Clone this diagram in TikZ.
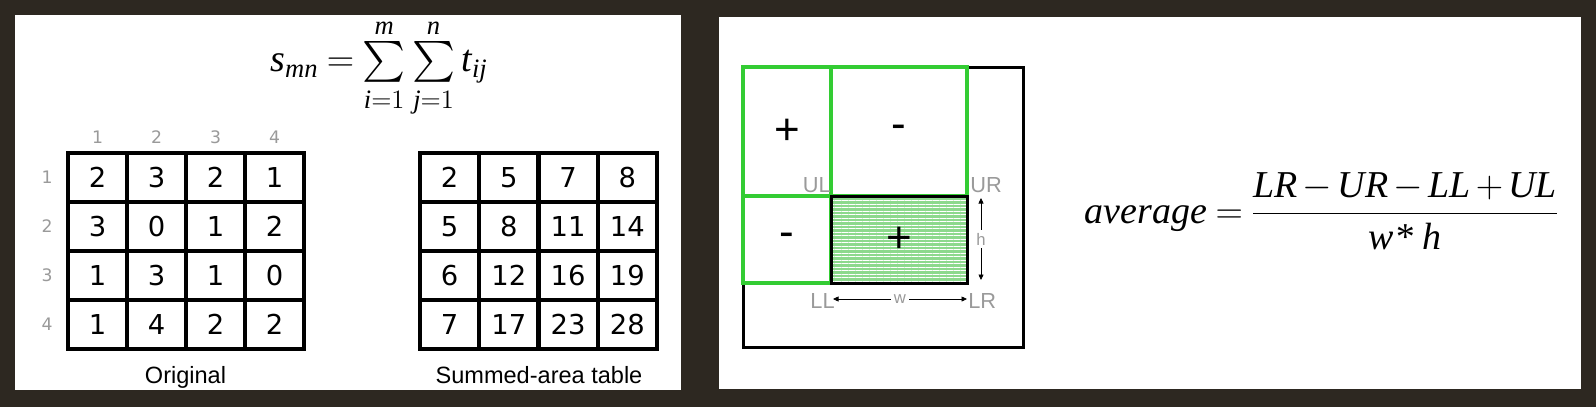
\RequirePackage{fix-cm}
\documentclass[tikz,border=0pt]{standalone}
\usepackage{amsmath}
\usepackage{graphicx}
\usepackage{fontspec}
\setmainfont{Liberation Sans}
\newfontfamily\cellfont{DejaVu Sans}
\newfontfamily\timesfont{Liberation Serif}
\newcommand{\tvar}[1]{\text{\timesfont\itshape #1}}
\newcommand{\bigsum}{\mathop{\vcenter{\hbox{\scalebox{1.12}{$\textstyle\sum$}}}}\limits}
\newcommand{\lowlim}[1]{\raisebox{-2pt}{$\scriptstyle #1$}}
\usetikzlibrary{arrows.meta, positioning, calc, patterns.meta}
\definecolor{panelbg}{HTML}{2D2821}
\definecolor{boxgreen}{HTML}{33CC33}
\definecolor{shadegreen}{HTML}{8CD98C}
\definecolor{labelgray}{HTML}{9A9A9A}

\begin{document}
\begin{tikzpicture}[x=0.02cm, y=-0.02cm,
        % --- Style Definitions ---
        cell_style/.style={rectangle, draw=black, line width=0.08cm, minimum width=1.18cm, minimum height=0.98cm, inner sep=0pt, font=\cellfont\fontsize{15.6}{18}\selectfont},
        index_style/.style={text=labelgray, inner sep=0pt, font=\cellfont\fontsize{9.8}{11}\selectfont},
        caption_style/.style={inner sep=0pt, font=\fontsize{13.4}{16}\selectfont},
        formula_style/.style={inner sep=0pt, font=\fontsize{21.6}{26}\selectfont},
        corner_style/.style={text=labelgray, inner sep=0pt, font=\fontsize{12.4}{14}\selectfont},
        sign_style/.style={inner sep=0pt, font=\fontsize{25}{28}\selectfont},
        green_box/.style={draw=boxgreen, line width=0.065cm},
        black_box/.style={draw=black, line width=0.06cm},
        dim_arrow/.style={{Triangle[length=1.1mm, width=1mm]}-{Triangle[length=1.1mm, width=1mm]}, line width=0.4pt},
        dim_label/.style={text=labelgray, fill=white, inner sep=1.5pt, font=\fontsize{9.5}{11}\selectfont}
    ]

        % --- Background and Panels ---
        \fill[panelbg] (0,0) rectangle (1596,407);
        \fill[white] (15,15) rectangle (681,390);
        \fill[white] (719,17) rectangle (1581,389);

        %################################################################
        %### Summed-Area Table ##########################################
        %################################################################

        % --- Definition ---
        \node[formula_style] (sum_formula) at (379,68)
            {$\thickmuskip=4mu \tvar{s}_{\tvar{mn}} = \bigsum_{\lowlim{\tvar{i}=1}}^{\tvar{m}}\bigsum_{\lowlim{\tvar{j}=1}}^{\tvar{n}} \tvar{t}_{\tvar{ij}}$};

        % --- Original Grid ---
        \foreach \vals [count=\r] in {{2,3,2,1},{3,0,1,2},{1,3,1,0},{1,4,2,2}}
            \foreach \v [count=\c] in \vals
                \node[cell_style] (orig-\r-\c) at ({97.5+59*(\c-1)},{177.5+49*(\r-1)}) {\v};

        % --- Row and Column Indices ---
        \foreach \c in {1,...,4}
            \node[index_style, above=0.14cm of orig-1-\c] (col-\c) {\c};
        \foreach \r in {1,...,4}
            \node[index_style, left=0.26cm of orig-\r-1] (row-\r) {\r};

        % --- Summed Grid ---
        \foreach \vals [count=\r] in {{2,5,7,8},{5,8,11,14},{6,12,16,19},{7,17,23,28}}
            \foreach \v [count=\c] in \vals
                \node[cell_style] (sat-\r-\c) at ({449.5+59.3*(\c-1)},{177.5+49*(\r-1)}) {\v};

        % --- Captions ---
        \node[caption_style, anchor=base] (orig_caption) at (185.5,383) {Original};
        \node[caption_style, anchor=base] (sat_caption) at (539,383) {Summed-area table};

        %################################################################
        %### Box Average ################################################
        %################################################################

        % --- Corners ---
        \coordinate (TL) at (743,67);
        \coordinate (BR) at (1023,347);
        \coordinate (UL) at (831,196);
        \coordinate (UR) at (967,196);
        \coordinate (LL) at (831,283);
        \coordinate (LR) at (967,283);

        % --- Regions ---
        \draw[black_box] (TL) rectangle (BR);
        \fill[shadegreen] (UL) rectangle (LR);
        \fill[pattern={Lines[angle=0, distance=0.07cm, line width=0.02cm]}, pattern color=white] (UL) rectangle (LR);
        \draw[green_box] (TL) rectangle (UL);
        \draw[green_box] (TL -| UL) rectangle (UR);
        \draw[green_box] (TL |- UL) rectangle (LL);
        \draw[black_box] (UL) rectangle (LR);

        % --- Signs ---
        \node[sign_style] (sign_ul) at ($(TL)!0.5!(UL)$) {+};
        \node[sign_style] (sign_top) at ($(TL -| UL)!0.5!(UR)$) {-};
        \node[sign_style] (sign_left) at ($(TL |- UL)!0.5!(LL)$) {-};
        \node[sign_style] (sign_box) at ($(UL)!0.5!(LR)$) {+};

        % --- Corner Labels ---
        \node[corner_style, anchor=base east] (ul_label) at ($(UL)+(0,-4)$) {UL};
        \node[corner_style, anchor=base west] (ur_label) at ($(UR)+(3,-4)$) {UR};
        \node[corner_style, anchor=base east] (ll_label) at ($(LL)+(4,25)$) {LL};
        \node[corner_style, anchor=base west] (lr_label) at ($(LR)+(1,25)$) {LR};

        % --- Width and Height ---
        \coordinate (h_top) at ($(UR)+(14,2)$);
        \coordinate (h_bot) at ($(LR)+(14,-3)$);
        \draw[dim_arrow] (h_top) -- node[dim_label] (h_label) {h} (h_bot);
        \coordinate (w_left) at ($(LL)+(2,16)$);
        \coordinate (w_right) at ($(LR)+(0,16)$);
        \draw[dim_arrow] (w_left) -- node[dim_label] (w_label) {w} (w_right);

        % --- Average Formula ---
        \node[formula_style] (avg_formula) at (1322,211)
            {$\thickmuskip=4mu \medmuskip=2.5mu \displaystyle \tvar{average} = \frac{\tvar{LR} - \tvar{UR} - \tvar{LL} + \tvar{UL}}{\tvar{w* h}}$};

    \end{tikzpicture}
\end{document}
